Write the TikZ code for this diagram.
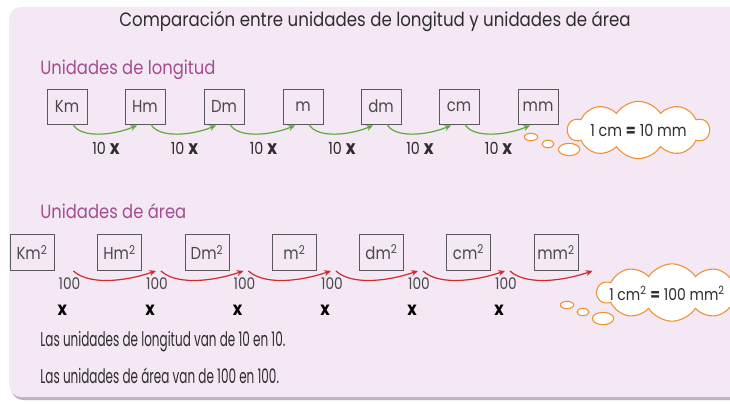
\documentclass[tikz,border=0pt]{standalone}
\usepackage{fontspec}
\setmainfont{Poppins}[FakeStretch=0.86]
\newfontfamily\condfont{Poppins}[FakeStretch=0.6]
\usetikzlibrary{shapes.symbols,arrows.meta,calc}
\definecolor{bg}{HTML}{F3E8F4}
\definecolor{shadowc}{HTML}{B9B4BC}
\definecolor{purp}{HTML}{A54C92}
\definecolor{txt}{HTML}{2E2E2E}
\definecolor{boxt}{HTML}{4A4A4A}
\definecolor{grn}{HTML}{5DAA3C}
\definecolor{rd}{HTML}{D22B2B}
\definecolor{org}{HTML}{EF9130}
\tikzset{
  lenbox/.style={draw=black!65, line width=0.7pt, minimum width=30pt, minimum height=26.25pt, inner sep=0pt, text=boxt, font=\fontsize{13}{13}\selectfont},
  areabox/.style={draw=black!65, line width=0.7pt, minimum width=33pt, minimum height=27pt, inner sep=0pt, text=boxt, font=\fontsize{13}{13}\selectfont},
  garrow/.style={draw=grn, line width=0.9pt, -{Stealth[length=5pt,width=4.5pt]}},
  rarrow/.style={draw=rd, line width=0.9pt, -{Stealth[length=5pt,width=4.5pt]}},
  tenlbl/.style={text=txt, font=\fontsize{12.5}{13}\selectfont, inner sep=0pt},
  hundlbl/.style={text=boxt, font=\fontsize{12}{13}\selectfont, inner sep=0pt},
  xlbl/.style={text=black, font=\fontsize{14}{14}\selectfont\bfseries, inner sep=0pt},
  thought/.style={cloud, cloud puffs=10, cloud puff arc=115, cloud ignores aspect, draw=org, line width=0.8pt, fill=white, inner sep=0pt},
  cloudtxt/.style={text=txt, inner sep=0pt, font=\fontsize{12.5}{14}\selectfont},
  bubble/.style={draw=org, line width=0.8pt, fill=white},
  heading/.style={text=purp, font=\fontsize{14.3}{15}\selectfont, inner sep=0pt, anchor=west},
  bodytxt/.style={text=txt, font=\condfont\fontsize{15}{16}\selectfont, inner sep=0pt, anchor=west}
}
\begin{document}
\begin{tikzpicture}[x=0.75pt,y=-0.75pt]
\useasboundingbox (0,0) rectangle (730,403);
% panel
\fill[shadowc, rounded corners=9pt] (11,10) rectangle (760,400);
\fill[bg, rounded corners=9pt] (9,7) rectangle (760,397);

\node[text=txt, font=\fontsize{14.5}{15}\selectfont, inner sep=0pt] (title) at (375,21) {Comparación entre unidades de longitud y unidades de área};

\node[heading] (hlen) at (40,70) {Unidades de longitud};

% length row
\node[lenbox] (km) at (67,106.5) {Km};
\node[lenbox] (hm) at (145,106.5) {Hm};
\node[lenbox] (dam) at (224,106.5) {Dm};
\node[lenbox] (m) at (303,106.5) {m};
\node[lenbox] (dm) at (381,106.5) {dm};
\node[lenbox] (cm) at (459,106.5) {cm};
\node[lenbox] (mm) at (538,106.5) {mm};

\foreach \a/\b in {km/hm,hm/dam,dam/m,m/dm,dm/cm,cm/mm}{
  \draw[garrow] ($(\a.south)+(6,0)$) .. controls +(8,14) and +(-24,10) .. ($(\b.south)+(-8,1)$);
  \node[tenlbl] at ($(\a.south)!0.5!(\b.south)+(0,24)$) {10 {\fontsize{14.5}{14}\selectfont\bfseries x}};
}

\node[thought, minimum width=106pt, minimum height=43pt] (c1) at (638.5,130) {};
\node[cloudtxt] (c1t) at (c1.center) {1 cm \textbf{=} 10 mm};
\draw[bubble] (531,137) ellipse [x radius=5pt, y radius=2.8pt];
\draw[bubble] (548,144) ellipse [x radius=4.5pt, y radius=2.8pt];
\draw[bubble] (569,149.5) ellipse [x radius=8pt, y radius=4.6pt];

\node[heading] (harea) at (40,211) {Unidades de área};

% area row
\node[areabox] (km2) at (32,252.5) {Km\textsuperscript{2}};
\node[areabox] (hm2) at (119.5,252.5) {Hm\textsuperscript{2}};
\node[areabox] (dam2) at (207,252.5) {Dm\textsuperscript{2}};
\node[areabox] (m2) at (294.5,252.5) {m\textsuperscript{2}};
\node[areabox] (dm2) at (381.5,252.5) {dm\textsuperscript{2}};
\node[areabox] (cm2) at (468.5,252.5) {cm\textsuperscript{2}};
\node[areabox] (mm2) at (556,252.5) {mm\textsuperscript{2}};

\foreach \a/\b in {km2/hm2,hm2/dam2,dam2/m2,m2/dm2,dm2/cm2,cm2/mm2}{
  \node[hundlbl] at ($(\a.south east)+(15,13)$) {100};
  \node[xlbl] at ($(\a.south east)+(8,39)$) {x};
}
\foreach \a/\b in {km2/hm2,hm2/dam2,dam2/m2,m2/dm2,dm2/cm2,cm2/mm2}{
  \draw[rarrow] ($(\a.south east)+(19,0)$) .. controls +(14,13) and +(-36,12) .. ($(\b.south east)+(14,0)$);
}

\node[thought, minimum width=112pt, minimum height=43pt] (c2) at (672,292.5) {};
\node[cloudtxt, anchor=west, font=\fontsize{12.2}{14}\selectfont] (c2t) at (609,293) {1 cm\textsuperscript{2} \textbf{=} 100 mm\textsuperscript{2}};
\draw[bubble] (567,305) ellipse [x radius=5pt, y radius=2.8pt];
\draw[bubble] (583,312) ellipse [x radius=4.5pt, y radius=2.8pt];
\draw[bubble] (603,318.5) ellipse [x radius=8pt, y radius=4.6pt];

\node[bodytxt] (l1) at (40,342) {Las unidades de longitud van de 10 en 10.};
\node[bodytxt] (l2) at (40,376) {Las unidades de área van de 100 en 100.};
\end{tikzpicture}
\end{document}
